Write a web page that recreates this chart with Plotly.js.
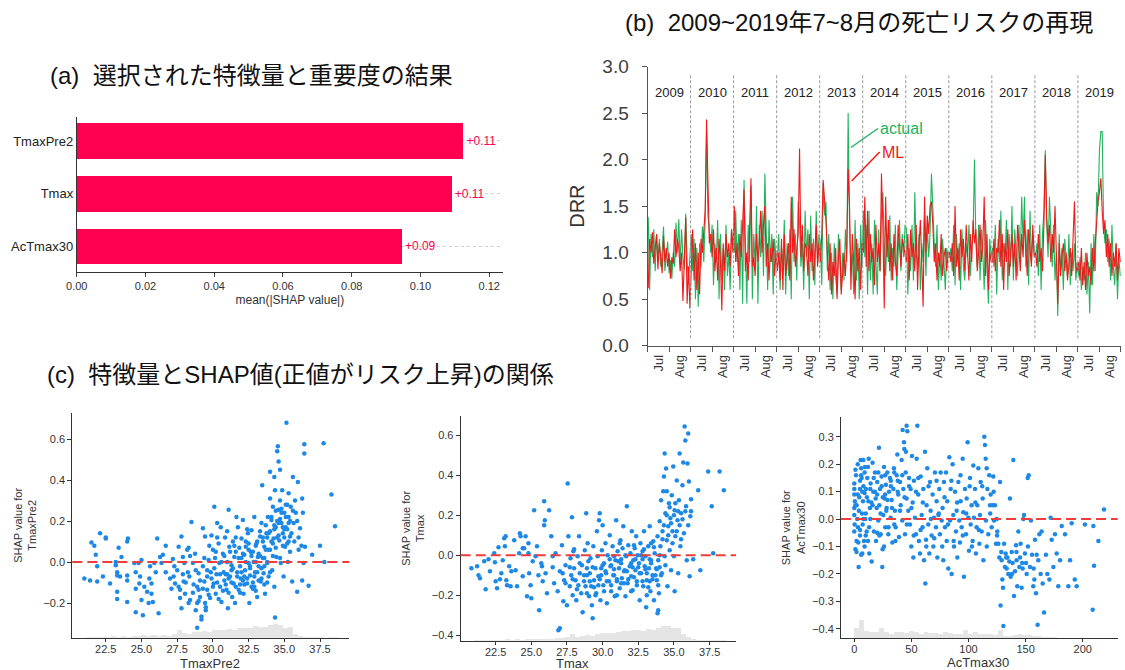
<!DOCTYPE html>
<html><head><meta charset="utf-8">
<script src="https://cdn.plot.ly/plotly-3.0.1.min.js"></script>
<style>html,body{margin:0;padding:0;background:#fff}#chart{width:1125px;height:670px}</style>
</head><body><div id="chart"></div>
<script>
// ---------- (a) feature importance ----------
const featureNames = ["TmaxPre2", "Tmax", "AcTmax30"];
const meanAbsShap = [0.1125, 0.1091, 0.0946];

// ---------- (b) DRR time series, July-August, every 2nd day ----------
const years = [2009, 2010, 2011, 2012, 2013, 2014, 2015, 2016, 2017, 2018, 2019];
const monthLabels = ["Jul", "Aug"];
const daysPerSeason = 62;
const actualDRR = [
 [1.38,0.6,1.2,0.95,1.25,0.8,1.2,0.9,1.15,0.85,1.0,1.28,0.8,0.95,1.12,0.78,0.92,0.72,1.0,0.85,1.32,1.0,1.36,0.88,1.25,0.95,0.82,1.42,0.9,0.7,0.95],
 [1.2,0.8,1.15,0.5,1.05,0.42,1.1,0.85,1.28,0.9,1.35,2.3,1.4,1.25,1.0,1.3,0.65,1.1,0.9,1.35,0.5,1.2,0.7,1.05,0.6,1.3,0.75,1.0,0.6,1.25,1.05],
 [1.0,1.45,0.9,1.2,0.6,1.35,0.45,1.78,1.1,0.45,1.3,0.9,1.72,0.5,1.2,0.85,1.5,0.45,1.3,0.95,1.45,0.75,1.85,1.1,0.6,1.35,0.9,1.2,0.55,1.15,0.95],
 [0.95,1.2,0.6,1.05,0.85,1.35,0.55,1.1,0.75,1.25,0.5,1.6,0.9,1.2,0.7,1.55,1.3,0.85,1.1,0.6,1.45,0.95,1.25,0.5,1.4,0.8,1.15,0.65,1.45,0.9,1.2],
 [1.1,0.65,1.75,1.4,1.55,0.8,1.2,0.6,1.0,0.5,1.1,0.75,0.55,1.2,0.85,0.6,1.0,0.7,1.25,0.9,2.5,1.3,0.8,1.0,0.55,1.35,0.7,1.1,0.5,1.3,0.85],
 [1.45,0.95,1.3,0.55,1.45,0.7,1.1,0.55,1.35,0.9,0.55,1.25,0.8,1.4,1.65,1.1,0.75,1.2,0.9,1.4,0.7,1.05,0.85,1.3,0.6,1.0,1.35,0.8,1.2,0.95,1.3],
 [1.25,0.55,1.05,0.8,1.3,0.7,1.65,1.0,0.85,1.2,0.6,1.1,0.9,1.4,0.75,1.3,0.95,1.2,1.85,1.4,1.1,0.85,1.3,0.6,1.0,0.7,1.15,0.9,0.6,1.05,0.95],
 [0.95,1.05,0.8,1.3,0.65,1.2,0.9,1.1,0.6,1.25,0.85,0.7,1.1,0.95,1.3,0.75,1.05,1.2,2.0,1.1,0.85,1.3,0.7,1.25,1.0,0.6,1.35,0.8,0.45,1.15,0.95],
 [1.05,0.85,1.3,0.55,1.15,0.9,1.45,0.7,1.1,0.95,1.35,0.6,1.2,0.85,1.5,0.7,1.25,1.0,0.75,1.3,0.9,1.6,1.1,1.6,0.85,1.25,0.65,1.45,0.9,1.2,1.0],
 [0.95,1.1,0.75,1.3,0.6,1.2,1.45,2.1,1.3,0.95,1.6,1.15,0.85,1.3,0.7,1.0,0.32,1.2,0.8,1.05,0.6,1.15,0.9,0.75,1.2,0.65,1.0,0.8,1.1,0.7,0.9],
 [0.75,0.95,0.6,0.85,0.7,1.0,0.55,0.9,0.35,1.1,0.65,1.2,0.8,1.65,1.5,2.1,2.3,2.3,1.3,1.1,1.25,0.9,1.15,0.7,1.3,0.85,0.65,1.1,0.5,0.95,0.75]
];
const mlDRR = [
 [0.62,1.15,1.0,1.22,0.88,1.05,1.2,0.82,1.1,0.95,0.78,1.18,0.9,1.05,0.85,1.0,0.72,0.95,0.88,1.25,0.95,1.15,1.05,0.8,1.0,0.48,0.95,1.38,0.45,0.85,0.4],
 [0.95,1.25,0.7,1.1,0.6,1.0,0.55,1.15,1.0,1.2,1.45,2.43,1.55,1.1,1.2,0.95,1.25,0.8,1.05,0.7,1.15,0.9,0.38,1.1,0.8,1.2,0.95,1.1,0.85,1.25,1.0],
 [1.5,0.9,1.1,0.75,1.2,0.95,1.3,1.68,0.8,1.0,0.7,1.15,1.8,0.85,0.95,0.75,1.2,0.9,1.1,1.45,1.0,1.3,1.5,0.85,1.1,0.7,1.05,0.9,1.15,0.75,1.0],
 [0.8,1.0,0.7,1.15,0.6,1.2,0.75,0.95,1.1,0.7,1.6,1.0,1.25,0.85,1.05,1.2,2.12,0.95,1.3,0.8,1.1,1.05,0.75,1.2,0.9,1.1,0.7,1.0,1.3,0.85,1.1],
 [0.9,1.2,1.78,1.6,1.35,1.0,0.7,1.1,0.55,0.9,0.75,1.05,0.5,0.95,1.15,0.55,0.85,1.0,0.75,1.05,1.9,1.5,0.6,1.2,0.9,0.5,1.15,0.8,1.05,0.6,1.1],
 [1.0,1.6,0.85,1.45,0.8,1.2,0.9,1.05,0.65,1.3,0.9,1.1,0.8,1.85,1.3,0.4,1.6,0.95,1.35,0.8,1.1,0.7,1.2,0.9,0.75,1.3,1.0,0.85,1.15,1.05,0.95],
 [0.9,1.2,0.7,1.25,0.95,1.1,0.8,1.3,0.6,1.05,1.35,0.9,0.42,1.6,1.0,1.4,1.2,1.5,1.55,1.3,0.9,1.1,0.7,1.0,0.85,1.2,0.75,0.95,1.05,0.8,1.0],
 [1.0,0.9,1.1,0.75,1.5,0.85,1.05,0.7,1.25,0.95,1.15,0.8,1.3,1.0,0.7,1.2,0.9,1.35,1.1,1.25,0.8,1.0,1.3,0.9,1.1,1.6,0.75,1.2,0.6,1.0,0.9],
 [0.9,1.15,0.8,1.05,1.0,1.35,0.85,1.2,0.6,1.1,0.9,1.25,0.75,1.0,1.2,0.85,1.1,0.7,1.3,1.05,0.8,1.2,0.95,1.35,1.1,0.75,1.25,1.0,0.85,1.3,0.95],
 [1.0,0.85,1.2,0.9,1.05,0.8,1.3,2.05,1.4,1.1,1.3,0.9,1.2,1.0,1.5,0.85,0.45,1.1,0.75,0.95,1.1,0.8,1.0,0.7,0.9,1.05,0.75,1.2,1.55,0.85,0.8],
 [0.9,0.7,1.05,0.65,0.9,0.6,1.0,0.75,0.85,0.65,1.05,0.8,1.1,1.4,1.55,1.65,1.8,1.45,1.2,1.35,0.95,1.2,0.85,1.1,0.75,1.0,0.85,1.1,0.7,1.05,0.9]
];

// ---------- (c) SHAP dependence ----------
const tmaxPre2X = [21.0,21.4,21.5,21.7,21.8,21.9,21.9,22.1,22.5,22.5,22.3,22.8,23.2,23.2,23.3,23.3,23.3,23.3,23.4,23.5,23.6,24.0,24.05,24.0,24.0,24.0,24.5,24.6,24.6,24.6,24.8,24.85,24.9,25.0,25.0,25.1,25.2,25.4,25.5,25.55,25.6,25.7,25.7,25.8,25.9,26.0,26.1,26.2,26.3,26.4,26.5,26.7,26.7,
 27.0,27.1,27.2,27.25,27.35,27.5,27.6,27.7,27.7,27.8,27.8,27.9,27.95,28.0,28.05,28.2,28.25,28.3,28.35,28.4,28.5,28.6,28.65,28.75,28.8,28.9,28.9,29.0,29.0,29.1,29.2,29.2,29.3,29.3,29.4,29.45,29.45,29.5,29.6,29.6,29.7,29.75,29.8,29.85,29.9,30.0,30.05,30.1,30.15,30.2,30.25,30.3,30.4,30.45,30.5,30.55,30.6,30.7,30.75,30.8,30.85,30.95,31.0,31.05,31.1,31.15,31.2,31.3,31.35,31.4,31.45,31.5,31.55,31.65,31.7,31.75,31.8,31.85,31.9,31.95,32.0,32.1,32.15,32.2,32.25,32.3,32.4,32.45,32.5,32.55,32.6,32.65,32.7,32.8,32.85,32.9,32.95,33.05,33.1,33.15,33.2,33.3,33.35,33.4,33.45,33.5,33.55,33.6,33.65,33.75,33.8,33.85,33.9,
 34.0,34.0,34.0,34.1,34.15,34.2,34.25,34.3,34.3,34.35,34.35,34.4,34.45,34.5,34.55,34.6,34.6,34.65,34.7,34.7,34.75,34.8,34.85,34.9,34.95,35.0,35.05,35.1,35.15,35.2,35.25,35.3,35.3,35.4,35.45,35.55,35.6,35.65,35.75,35.8,35.9,35.95,36.0,36.1,36.25,36.25,36.3,36.35,36.4,36.4,36.45,36.7,36.95,37.5,37.75,37.8,38.3,38.55,
 31.3,31.6,31.9,32.0,32.2,32.3,32.5,32.6,32.7,32.8,33.0,33.1,33.2,33.3,33.4,33.5,33.6,33.7,33.8,33.9,34.0,34.1,34.2,34.3,34.4,34.5,34.6,34.7,34.8,34.9,35.0,35.1,35.2,35.3,35.4,32.1,32.9,33.6,30.9,31.1,
 27.3,27.6,27.9,28.1,28.4,28.6,28.8,29.0,29.1,29.3,29.4,29.6,29.7,29.9,30.0,30.1,30.2,30.3,30.4,30.5,30.6,30.7,30.8,30.9,31.0,31.1,31.2,31.3,31.4,31.5,31.6,31.7,31.8,31.9,32.0,32.1,32.2,32.3,32.4,32.5,32.6,32.7,32.8,32.9,33.0,33.1,33.2,33.3,33.4,33.5,33.6,33.7,33.8,33.9,34.0,34.1,34.2,34.3,34.4,34.5,34.6,34.7,34.8,34.9,35.0,35.1,35.2,35.3,35.4,35.5,35.6,35.7,35.9,36.0,36.2,28.3,28.9,29.5,30.3,31.0,31.6,32.4,33.0,33.8];
const tmaxPre2Shap = [-0.08,-0.09,0.095,0.08,0.035,-0.02,-0.095,0.14,0.12,0.115,-0.07,-0.105,0.0,-0.015,-0.05,-0.065,-0.145,-0.18,0.07,-0.07,0.025,0.1,0.115,-0.065,-0.09,-0.195,-0.005,-0.05,-0.13,-0.245,-0.005,-0.105,-0.07,0.01,-0.185,-0.26,-0.12,-0.145,-0.2,-0.08,-0.02,-0.105,-0.155,-0.195,-0.005,-0.05,0.115,-0.25,0.025,-0.005,0.035,0.08,-0.05,
 -0.08,-0.13,0.015,-0.07,-0.105,-0.04,0.075,-0.135,-0.175,0.125,-0.225,0.025,-0.095,-0.005,-0.155,0.06,-0.05,0.07,-0.07,-0.185,0.195,-0.005,-0.11,0.04,-0.235,-0.2,-0.32,-0.055,-0.135,-0.17,-0.28,-0.265,0.165,-0.02,-0.095,0.125,-0.2,-0.235,-0.07,-0.135,0.01,0.08,-0.175,-0.05,0.13,0.06,-0.105,0.27,0.02,-0.155,-0.06,0.19,0.09,-0.005,-0.12,0.17,-0.195,0.04,-0.05,-0.09,0.12,-0.135,0.0,-0.225,0.255,0.075,-0.07,-0.015,-0.17,0.1,-0.105,0.025,-0.2,0.22,-0.05,0.17,-0.135,0.07,-0.02,-0.08,0.115,0.205,-0.155,0.035,-0.04,0.075,-0.105,0.14,-0.005,-0.2,-0.065,0.05,0.155,-0.13,0.0,0.22,-0.05,0.09,-0.17,0.025,-0.02,0.125,-0.095,0.19,0.375,0.02,-0.055,0.075,-0.155,0.14,-0.005,0.22,-0.07,
 0.44,0.31,0.06,0.205,-0.04,0.27,0.115,0.415,-0.12,0.35,-0.27,0.17,0.025,0.54,0.565,0.255,0.49,0.105,0.45,0.3,-0.005,0.19,0.35,0.14,-0.07,0.24,0.075,0.17,0.68,0.28,0.0,0.22,0.335,0.125,0.27,-0.095,0.415,0.19,0.3,0.24,-0.145,0.39,0.06,0.165,0.31,-0.09,0.24,-0.005,0.575,0.53,0.075,-0.115,0.035,0.08,0.58,0.0,0.33,0.175,
 -0.04,0.05,-0.11,0.02,-0.07,0.1,0.06,-0.03,0.03,-0.1,0.08,-0.05,0.04,0.15,-0.08,0.1,0.02,0.18,0.12,0.06,0.15,0.22,0.09,0.18,0.25,0.2,0.13,0.21,0.26,0.17,0.12,0.22,0.16,0.1,0.2,-0.09,-0.12,-0.02,-0.06,-0.08,
 -0.02,-0.12,-0.06,-0.1,0.03,-0.15,-0.04,-0.19,-0.09,-0.13,0.02,-0.04,-0.16,-0.08,-0.12,-0.03,0.05,-0.1,-0.18,-0.06,0.0,-0.14,0.03,-0.11,-0.06,-0.15,0.05,-0.1,-0.03,0.08,-0.12,-0.07,0.02,-0.15,-0.05,0.04,-0.11,0.0,-0.08,0.09,-0.02,-0.12,0.05,-0.07,0.0,0.1,-0.09,0.03,-0.03,0.12,-0.11,0.06,0.0,0.14,-0.05,0.1,0.03,0.16,0.07,0.12,0.19,0.02,0.24,0.08,0.16,0.28,0.09,0.19,0.05,0.14,0.25,0.1,0.2,0.12,0.08,-0.2,-0.12,-0.22,0.12,0.15,0.12,0.16,-0.14,-0.1];

const tmaxX = [20.8,21.2,21.3,21.4,21.7,21.8,22.0,22.1,22.4,22.45,22.5,22.6,22.7,22.9,23.0,23.1,23.15,23.2,23.25,23.3,23.45,23.55,23.8,23.9,24.0,24.15,24.2,24.25,24.4,24.4,24.5,24.6,24.7,24.8,24.85,24.95,25.0,25.1,25.2,25.3,25.4,25.55,25.7,25.75,25.8,25.9,25.9,25.95,26.0,26.1,26.25,26.4,26.5,26.6,26.7,26.85,26.9,27.0,
 27.15,27.2,27.25,27.3,27.4,27.5,27.55,27.6,27.7,27.75,27.8,27.85,27.9,27.95,28.0,28.1,28.15,28.25,28.3,28.35,28.4,28.5,28.55,28.6,28.7,28.75,28.8,28.85,28.9,28.95,29.05,29.1,29.15,29.2,29.25,29.3,29.35,29.4,29.5,29.55,29.6,29.65,29.7,29.75,29.8,29.85,29.9,29.95,30.0,30.05,30.1,30.2,30.25,30.3,30.35,30.45,30.5,30.55,30.6,30.7,30.75,30.8,30.85,30.9,30.95,31.0,31.05,31.15,31.2,31.25,31.3,31.35,31.4,31.45,31.55,31.6,31.65,31.7,31.75,31.8,31.9,31.95,32.0,32.05,32.1,32.15,32.25,32.3,32.35,32.4,32.45,32.55,32.6,32.65,32.7,32.8,32.85,32.9,32.95,33.0,33.05,33.1,33.2,33.25,33.3,33.35,33.4,33.5,33.55,33.6,33.65,33.75,33.8,33.85,33.85,33.9,33.9,33.95,
 34.0,34.05,34.1,34.15,34.2,34.25,34.3,34.35,34.35,34.4,34.45,34.5,34.5,34.55,34.6,34.65,34.7,34.75,34.8,34.85,34.9,34.95,35.0,35.05,35.05,35.1,35.2,35.25,35.3,35.35,35.4,35.45,35.5,35.6,35.65,35.7,35.75,35.8,35.85,35.9,35.95,36.0,36.05,36.1,36.15,36.2,36.35,36.7,36.85,37.4,37.65,37.75,38.2,38.5,
 30.2,30.6,31.0,31.3,31.7,32.0,32.2,32.5,32.8,33.1,33.4,33.7,34.0,31.5,32.7,33.3,30.8,29.8,29.4,28.9,
 27.4,27.7,27.9,28.2,28.4,28.7,28.9,29.1,29.3,29.5,29.7,29.9,30.1,30.3,30.5,30.6,30.8,31.0,31.1,31.3,31.5,31.6,31.8,32.0,32.1,32.3,32.4,32.6,32.8,32.9,33.0,33.2,33.3,33.5,33.6,33.8,33.9,34.0,34.1,34.2,34.3,34.4,34.5,34.6,34.7,34.8,34.9,35.0,35.1,35.2,35.3,35.4,35.5,35.6,35.8,36.0,36.2,26.5,25.5,24.8,23.6,22.8,27.0,28.0,29.0,30.0,31.2,32.2,33.4,33.1];
const tmaxShap = [-0.065,-0.055,-0.1,-0.115,-0.03,-0.17,-0.02,-0.08,0.01,-0.035,-0.13,-0.165,0.04,-0.09,-0.025,0.085,0.045,0.095,-0.125,-0.15,-0.055,-0.155,0.075,-0.075,-0.155,0.01,0.11,0.095,0.035,-0.105,0.035,0.095,-0.205,0.01,-0.09,-0.15,-0.215,-0.03,0.225,-0.005,0.045,-0.275,-0.04,-0.055,-0.13,0.27,0.15,0.175,-0.09,-0.19,0.225,0.095,-0.005,-0.14,0.01,-0.18,-0.375,-0.365,
 0.05,-0.09,-0.23,-0.125,-0.05,-0.25,0.36,0.095,-0.155,-0.015,-0.1,0.19,-0.2,0.02,-0.065,-0.125,-0.225,-0.005,-0.15,0.095,-0.09,-0.19,-0.05,-0.285,-0.13,0.025,-0.155,0.21,-0.065,0.06,-0.205,-0.09,-0.015,-0.155,-0.25,-0.315,0.045,-0.125,-0.065,-0.19,0.12,-0.005,-0.105,0.175,0.21,-0.225,-0.065,0.025,0.15,-0.15,-0.04,0.06,-0.09,-0.24,0.0,-0.13,0.1,-0.055,-0.18,0.045,-0.1,-0.005,-0.205,-0.025,0.175,-0.13,0.02,-0.065,-0.165,0.075,-0.04,-0.115,0.035,0.145,-0.075,-0.205,-0.005,0.245,-0.14,0.05,-0.055,0.01,-0.105,0.12,-0.175,-0.025,0.035,-0.075,0.095,-0.13,0.0,-0.04,-0.225,0.06,-0.09,0.02,-0.155,0.12,-0.055,-0.005,-0.26,-0.125,0.045,-0.065,0.145,-0.18,-0.025,-0.1,0.07,-0.225,0.01,-0.065,-0.125,0.095,-0.29,-0.275,-0.025,-0.19,
 0.17,0.045,0.275,-0.09,0.12,0.32,0.395,-0.005,0.51,0.21,0.435,0.075,0.32,-0.155,0.145,0.26,0.025,0.185,-0.075,0.3,0.12,0.445,-0.005,0.225,-0.18,0.095,0.375,0.175,-0.09,0.275,0.51,0.045,0.21,0.35,0.465,0.11,0.645,0.575,0.245,-0.025,0.46,0.61,0.37,-0.105,0.195,0.28,-0.02,0.325,-0.075,0.42,0.245,0.01,0.42,0.325,
 -0.08,-0.05,-0.12,-0.02,-0.08,-0.04,-0.11,-0.06,-0.02,-0.09,-0.04,-0.1,-0.06,-0.14,0.0,-0.13,-0.1,-0.12,-0.16,-0.1,
 -0.14,-0.06,-0.12,-0.17,-0.04,-0.1,-0.19,-0.13,-0.06,-0.2,-0.15,-0.1,-0.18,-0.13,-0.02,-0.15,-0.07,-0.2,-0.03,-0.14,-0.08,0.0,-0.12,-0.18,-0.06,-0.02,-0.15,-0.09,-0.13,0.03,-0.07,-0.16,-0.02,-0.12,0.04,-0.07,-0.15,0.0,-0.1,0.08,0.15,-0.05,0.2,0.1,0.24,0.16,0.06,0.2,0.26,0.12,0.22,0.15,0.08,0.18,0.22,0.15,0.22,-0.06,-0.1,0.06,-0.08,-0.12,-0.08,0.03,-0.03,-0.05,0.06,0.05,0.06,-0.2];

const acTmax30X = [0,0,0,0.5,0,0,0.3,0,1,1.5,2,2.6,3.2,3.5,3.8,4.4,5,5,5.5,6,6.4,6.7,7,7.3,7.6,7.9,8.5,9,9.3,9.6,10.2,10.8,11.4,12.3,12.6,13.1,13.7,14.3,15.2,
 16,16.6,17.2,18.1,18.7,19.6,20.1,21,21.6,21.9,22.5,23.1,23.9,24.5,24.8,25.4,26,26.6,27.1,27.7,28.3,28.9,29.8,30.4,31.2,31.8,32.7,33.3,34.2,34.7,35.6,36.2,37.1,37.7,38.5,39.1,40,40.6,41.4,42,42.3,42.9,43.5,43.8,44.4,45,45.2,45.8,45.8,46.4,47.3,47.9,48.7,49.3,49.9,50.5,51.1,51.7,52.2,53.1,54,54.6,55.2,56,56.6,57.5,58.1,59,59.8,60.4,61,61.9,62.2,62.8,63.3,63.9,64.8,65.7,66.3,66.8,67.7,68.6,69.2,69.8,70.6,71.5,72.1,72.7,73.6,74.4,75,75.6,76.5,77.3,77.9,78.5,79.4,80.3,80.9,81.4,82.3,83.2,83.8,84.4,85.2,86.1,86.7,87.3,88.2,89,89.6,90.2,91.1,91.9,92.5,93.1,94,94.9,95.4,96,96.9,97.8,98.4,99.2,99.8,100.4,101.3,101.9,102.7,103.6,104.2,104.8,105.7,106.5,107.1,107.7,108.6,109.5,110,110.6,111.5,112.4,113,113.8,114.4,115,115.3,115.9,116.5,117.3,118.2,118.8,119.4,120.3,121.1,121.7,122.3,123.2,124.1,124.6,125.2,126.1,127,127.6,
 128.1,128.7,129,129.6,130.2,130.5,131.1,131.9,132.5,133.4,134,134.8,135.7,136.3,136.9,137.8,138.6,139.2,139.8,140.7,141.6,142.1,142.7,143.6,144.5,145.1,145.6,146.5,147.4,148,148.6,149.4,150.3,150.9,151.8,152.7,153.8,154.7,155.6,156.7,157.6,158.2,159.1,159.7,160.5,161.1,162,163.2,164,164.9,166.1,167.8,169,170.8,171.9,172.8,174.3,175.7,177.2,178.6,180.1,181.6,184.5,187.4,188.9,190.3,193,194.7,201.9,208.7,209.3,209.9,213.7,218.6,
 1,3,5,8,10,12,15,18,20,25,28,32,35,2,6,9,14,22,27,38,
 1,2,3,4,5,6,7,8,9,10,11,12,13,14,16,17,19,20,21,23,24,26,27,29,30,32,33,35,36,38,40,42,44,46,48,50,52,54,56,58,60,63,65,67,70,72,74,77,79,82,85,87,90,93,95,98,101,103,106,109,112,116,119,122,125,133,138,142,147,152,157];
const acTmax30Shap = [0.13,0.11,0.09,0.065,0.04,0.015,-0.02,-0.045,-0.11,0.16,0.05,0,-0.03,-0.085,-0.175,0.08,0.11,-0.06,0.215,0.185,0.15,0.02,-0.125,-0.02,0.065,0.215,-0.08,0.095,0.19,0,0.11,-0.045,0.15,0.065,0.22,-0.125,0.04,0.13,-0.155,
 0.205,0.1,-0.045,0.17,0.075,0.04,0.135,-0.005,0.26,0.05,0.11,-0.055,0.155,-0.175,-0.11,0.015,0.19,0.075,-0.03,0.125,0.04,0.17,-0.055,0.1,0.15,0.005,0.07,-0.085,0.11,0.185,0.03,-0.03,0.16,0.235,0.09,-0.065,0.135,0.05,0.215,-0.005,0.325,0.11,0.28,0.255,-0.055,0.17,0.245,0.34,0.075,0.32,0.03,0.15,-0.02,0.11,-0.1,0.23,0.06,-0.14,0.14,0.005,-0.055,0.22,0.34,0.09,-0.08,-0.125,0.155,0.015,-0.03,0.11,-0.15,0.245,-0.235,-0.075,0.05,0.185,-0.02,-0.125,0.135,0.03,-0.06,0.09,-0.1,0.005,0.17,-0.03,0.065,-0.14,0.015,0.11,-0.055,0.17,-0.005,0.04,-0.15,0.135,-0.03,0.17,-0.08,0.065,-0.18,0.225,-0.005,0.11,-0.2,0.2,0.015,-0.1,0.1,-0.045,0.03,-0.14,0.135,-0.005,-0.085,0.065,-0.03,0.22,0.025,-0.21,0.11,-0.055,0.075,0.28,0.005,-0.115,0.15,-0.02,0.05,-0.08,0.195,0.005,0.11,-0.125,-0.03,0.05,0.185,-0.09,0.015,0.135,-0.045,0.075,-0.15,0.3,0.27,0.22,-0.005,0.185,0.11,-0.055,0.16,0.05,0.09,-0.03,0.05,0.155,-0.005,0.05,-0.09,0,-0.045,-0.09,-0.14,0.135,
 -0.315,-0.12,-0.15,-0.22,-0.25,-0.39,-0.09,-0.175,-0.125,-0.18,-0.14,-0.2,-0.155,0.075,-0.21,-0.12,-0.16,0.215,-0.28,-0.19,-0.095,-0.15,-0.245,-0.045,-0.175,-0.14,-0.09,-0.25,-0.18,0,0.015,-0.125,-0.16,-0.2,0.15,0.16,-0.175,-0.005,-0.13,-0.245,-0.22,-0.075,-0.27,-0.13,-0.385,-0.15,-0.055,-0.2,-0.045,-0.235,-0.34,-0.13,-0.2,-0.22,0.005,-0.075,-0.175,-0.055,-0.125,-0.245,-0.15,-0.025,-0.055,-0.245,-0.15,-0.015,-0.22,-0.245,-0.02,-0.33,-0.025,-0.17,-0.08,0.035,
 0.05,0.09,-0.04,0.12,0.02,-0.08,0.06,0.1,-0.05,0.08,0.03,0.12,-0.02,-0.12,0.16,-0.1,0.0,-0.06,0.09,0.14,
 0.18,-0.08,0.2,0.03,0.14,-0.13,0.1,0.0,0.17,-0.06,0.08,0.19,-0.03,0.11,0.05,0.15,-0.08,0.09,0.17,0.02,0.12,-0.1,0.16,0.07,-0.03,0.14,0.04,0.17,-0.08,0.1,0.03,0.16,0.08,-0.02,0.12,0.04,-0.06,0.1,0.15,-0.04,0.06,-0.1,0.12,0.0,-0.07,0.14,0.02,-0.1,0.08,-0.02,0.14,-0.08,0.06,0.16,-0.06,0.02,0.12,-0.1,0.06,-0.04,0.12,-0.1,0.02,0.1,-0.06,-0.14,-0.2,-0.12,-0.16,-0.1,-0.18];

// histograms of the feature values (50 bins, counts of days)
const nDays = 682;
const tmaxPre2HistRange = [21.1, 38.8];
const tmaxPre2Hist = [2,1,3,3,2,4,3,5,3,4,6,7,6,8,6,7,5,10,22,14,10,16,18,20,17,22,24,24,26,24,28,30,28,36,32,33,40,42,38,30,32,12,5,2,1,1,1,0,1,1];
const tmaxHistRange = [21.0, 38.7];
const tmaxHist = [1,1,2,2,3,3,4,3,4,3,4,6,5,4,6,5,7,8,12,20,10,14,18,14,20,24,22,24,26,28,30,32,34,30,36,34,40,46,44,38,40,20,12,5,2,1,1,1,1,1];
const acTmax30HistRange = [0, 216.5];
const acTmax30Hist = [30,55,22,18,18,32,20,14,20,18,15,22,18,14,18,16,15,14,20,16,14,12,26,14,18,12,14,12,10,26,6,8,10,12,10,10,8,6,4,3,5,2,2,1,1,1,0,1,1,1];
const featureAxisTitles = ["TmaxPre2", "Tmax", "AcTmax30"];

// ---------- build ----------
const FONT = "Liberation Sans, Arial, Noto Sans CJK JP, sans-serif";
const CJK = "Liberation Sans, Noto Sans CJK JP, sans-serif";
const traces = [];

traces.push({
  type: "bar", orientation: "h", y: featureNames, x: meanAbsShap,
  xaxis: "x", yaxis: "y", width: 0.68,
  marker: {color: "#ff0051"},
  text: meanAbsShap.map(v => "+" + v.toFixed(2)),
  textposition: "outside", cliponaxis: false,
  outsidetextfont: {color: "#ff0051", size: 12, family: FONT},
  hoverinfo: "skip"
});

function flatten(series) {
  const xs = [], ys = [];
  series.forEach((arr, k) => arr.forEach((v, i) => { xs.push(k * daysPerSeason + 2 * i + 1); ys.push(v); }));
  return {xs, ys};
}
const act = flatten(actualDRR), ml = flatten(mlDRR);
traces.push({type: "scatter", mode: "lines", x: act.xs, y: act.ys, xaxis: "x2", yaxis: "y2",
  line: {color: "#22b35e", width: 1.1}, hoverinfo: "skip"});
traces.push({type: "scatter", mode: "lines", x: ml.xs, y: ml.ys, xaxis: "x2", yaxis: "y2",
  line: {color: "#f01818", width: 1.1}, hoverinfo: "skip"});

const panels = [
  {xa: "x3", ya: "y3", yo: "y6", X: tmaxPre2X, Y: tmaxPre2Shap, H: tmaxPre2Hist, R: tmaxPre2HistRange},
  {xa: "x4", ya: "y4", yo: "y7", X: tmaxX, Y: tmaxShap, H: tmaxHist, R: tmaxHistRange},
  {xa: "x5", ya: "y5", yo: "y8", X: acTmax30X, Y: acTmax30Shap, H: acTmax30Hist, R: acTmax30HistRange}
];
panels.forEach(p => {
  const w = (p.R[1] - p.R[0]) / p.H.length;
  traces.push({type: "bar", x: p.H.map((c, i) => p.R[0] + w * (i + 0.5)), y: p.H, width: w,
    xaxis: p.xa, yaxis: p.ya, marker: {color: "rgba(0,0,0,0.1)", line: {width: 0}}, hoverinfo: "skip"});
  traces.push({type: "scatter", mode: "markers", x: p.X, y: p.Y, xaxis: p.xa, yaxis: p.yo,
    marker: {color: "#1e88e5", size: 4.5}, hoverinfo: "skip"});
});

const tickF = {family: FONT, size: 11, color: "#333"};
function dep(domain, range, dtick, fmt, title) {
  const a = {range, dtick, tickformat: fmt, showline: true, linecolor: "#333", linewidth: 1,
    ticks: "outside", ticklen: 4, tickcolor: "#333", showgrid: false, zeroline: false, tickfont: tickF};
  if (domain) a.domain = domain;
  if (title) a.title = {text: title, font: {family: FONT, size: 11, color: "#333"}, standoff: 4};
  return a;
}

const minorTicks = [];
for (let k = 0; k <= years.length * 2; k++) minorTicks.push(k * 31);
const monthTickVals = [], monthTickText = [];
years.forEach((y, k) => monthLabels.forEach((m, j) => { monthTickVals.push(k * daysPerSeason + 15.5 + 31 * j); monthTickText.push(m); }));

const shapes = [];
const annotations = [];
years.forEach((y, k) => {
  if (k > 0) shapes.push({type: "line", xref: "x2", yref: "y2", x0: k * daysPerSeason, x1: k * daysPerSeason,
    y0: 0.08, y1: 2.91, line: {color: "#999", width: 1, dash: "3px,2px"}});
  annotations.push({xref: "x2", yref: "y2", x: k * daysPerSeason + 31, y: 2.72, text: String(y), showarrow: false,
    font: {family: FONT, size: 13, color: "#222"}});
});
["y6", "y7", "y8"].forEach((ya, i) => shapes.push({type: "line", xref: "x" + (i + 3) + " domain", yref: ya,
  x0: 0, x1: 1, y0: 0, y1: 0, line: {color: "#f03c3c", width: 2, dash: "10px,5px"}}));

// x-axis titles of the dependence plots (placed under the tick labels)
const depTitlePos = [[0.1867, 0.0095], [0.5093, 0.0095], [0.8693, 0.0105]];
featureAxisTitles.forEach((t, i) => annotations.push({xref: "paper", yref: "paper", x: depTitlePos[i][0], y: depTitlePos[i][1],
  xanchor: "center", yanchor: "middle", showarrow: false, text: t, font: {family: FONT, size: 13, color: "#333"}}));

annotations.push({xref: "x2", yref: "y2", x: 293, y: 2.13, ax: 27, ay: -19, text: "actual", showarrow: true,
  arrowhead: 0, arrowwidth: 1.5, arrowcolor: "#22b35e", xanchor: "left", font: {family: FONT, size: 16, color: "#22b35e"}});
annotations.push({xref: "x2", yref: "y2", x: 294, y: 1.77, ax: 28, ay: -29, text: "ML", showarrow: true,
  arrowhead: 0, arrowwidth: 1.5, arrowcolor: "#f01818", xanchor: "left", font: {family: FONT, size: 16, color: "#f01818"}});

const titleF = {family: CJK, size: 24, color: "#111"};
annotations.push({xref: "paper", yref: "paper", x: 0.0427, y: 0.888, xanchor: "left", yanchor: "middle", showarrow: false,
  text: "(a)  選択された特徴量と重要度の結果", font: titleF});
annotations.push({xref: "paper", yref: "paper", x: 0.5538, y: 0.967, xanchor: "left", yanchor: "middle", showarrow: false,
  text: "(b)  2009~2019年7~8月の死亡リスクの再現", font: titleF});
annotations.push({xref: "paper", yref: "paper", x: 0.04, y: 0.4403, xanchor: "left", yanchor: "middle", showarrow: false,
  text: "(c)  特徴量とSHAP値(正値がリスク上昇)の関係", font: titleF});

const depX = (domain, range, dtick, fmt, anchor) =>
  Object.assign(dep(domain, range, dtick, fmt, null), {anchor, ticklen: 3, ticklabelstandoff: -2});

const layout = {
  width: 1125, height: 670, margin: {l: 0, r: 0, t: 0, b: 0},
  paper_bgcolor: "#fff", plot_bgcolor: "rgba(0,0,0,0)", showlegend: false, bargap: 0,
  font: {family: FONT, color: "#333"},
  xaxis: {domain: [0.0682, 0.4471], anchor: "y", range: [0, 0.124], dtick: 0.02, tickformat: ".2f",
    showline: true, linecolor: "#333", ticks: "outside", ticklen: 4, showgrid: false, zeroline: false,
    tickfont: tickF, title: {text: "mean(|SHAP value|)", font: {family: FONT, size: 12, color: "#333"}, standoff: 4}},
  yaxis: {domain: [0.594, 0.8254], anchor: "x", type: "category", range: [2.484, -0.455],
    showline: true, linecolor: "#333", ticks: "", showgrid: true, gridcolor: "#d0d0d0", griddash: "dot", gridwidth: 1,
    tickfont: {family: FONT, size: 13, color: "#222"}},
  xaxis2: {domain: [0.5756, 0.9964], anchor: "y2", range: [0, years.length * daysPerSeason],
    tickmode: "array", tickvals: monthTickVals, ticktext: monthTickText, tickangle: -90, ticks: "", ticklabelstandoff: 3,
    minor: {tickmode: "array", tickvals: minorTicks, ticks: "outside", ticklen: 5, tickcolor: "#555", showgrid: false},
    showline: true, linecolor: "#555", showgrid: false, zeroline: false,
    tickfont: {family: FONT, size: 13, color: "#333"}},
  yaxis2: {domain: [0.484, 0.9007], anchor: "x2", range: [0, 3], dtick: 0.5, tickformat: ".1f",
    showline: true, linecolor: "#555", ticks: "outside", ticklen: 5, tickcolor: "#555", showgrid: false, zeroline: false,
    ticklabelstandoff: 9,
    tickfont: {family: FONT, size: 19, color: "#404040"},
    title: {text: "DRR", font: {family: FONT, size: 20, color: "#333"}, standoff: 12}},
  xaxis3: depX([0.0643, 0.3105], [20.16, 39.55], 2.5, ".1f", "y3"),
  xaxis4: depX([0.4095, 0.6542], [20.05, 39.35], 2.5, ".1f", "y4"),
  xaxis5: depX([0.7476, 0.9935], [-11.6, 230.6], 50, "d", "y5"),
  yaxis3: {domain: [0.0482, 0.3836], anchor: "x3", range: [0, nDays], visible: false},
  yaxis4: {domain: [0.0437, 0.3791], anchor: "x4", range: [0, nDays], visible: false},
  yaxis5: {domain: [0.0475, 0.3772], anchor: "x5", range: [0, nDays], visible: false},
  yaxis6: Object.assign(dep(null, [-0.369, 0.727], 0.2, ".1f", "SHAP value for<br>TmaxPre2"), {overlaying: "y3", anchor: "x3"}),
  yaxis7: Object.assign(dep(null, [-0.427, 0.697], 0.2, ".1f", "SHAP value for<br>Tmax"), {overlaying: "y4", anchor: "x4"}),
  yaxis8: Object.assign(dep(null, [-0.434, 0.371], 0.1, ".1f", "SHAP value for<br>AcTmax30"), {overlaying: "y5", anchor: "x5"}),
  shapes, annotations
};

Plotly.newPlot("chart", traces, layout, {staticPlot: true, displayModeBar: false});
</script></body></html>
